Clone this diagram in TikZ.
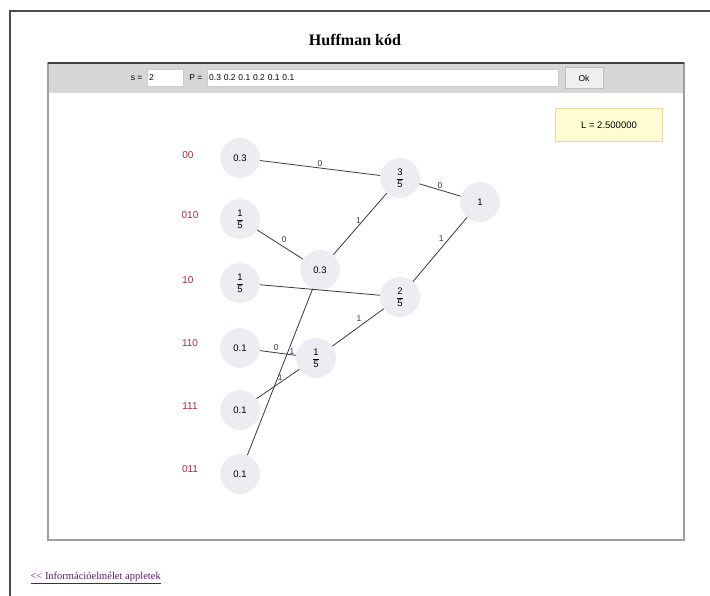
\documentclass[tikz,border=0pt]{standalone}
\usepackage{amsmath}
\usepackage{fontspec}
\setmainfont{Liberation Serif}
\newfontfamily\guifont{Liberation Sans}
\usetikzlibrary{positioning,calc}

\definecolor{nodefill}{RGB}{236,236,243}
\definecolor{codered}{RGB}{176,40,60}
\definecolor{edgegray}{RGB}{55,55,65}
\definecolor{barfill}{RGB}{214,214,214}
\definecolor{lfill}{RGB}{254,252,208}
\definecolor{lborder}{RGB}{226,220,160}
\definecolor{linkpurple}{RGB}{88,28,96}

\newcommand{\hfr}[2]{$\genfrac{}{}{0.5pt}{0}{\mbox{#1}}{\mbox{#2}}$}

\begin{document}
\begin{tikzpicture}[
    x=1pt, y=-1pt,
    font=\guifont\fontsize{8.5}{10}\selectfont,
    tnode/.style={circle, fill=nodefill, minimum size=40pt, inner sep=0pt, font=\guifont\fontsize{9.5}{11}\selectfont},
    code/.style={text=codered, font=\guifont\fontsize{10}{12}\selectfont},
    edge/.style={edgegray, line width=0.8pt},
    elabel/.style={font=\guifont\fontsize{8.5}{10}\selectfont, inner sep=1.5pt},
    field/.style={draw=gray!40, fill=white, minimum height=17pt, inner sep=1.5pt, anchor=west}
]
\useasboundingbox (0,0) rectangle (710,596);

\draw [black!70, line width=1.3pt] (710,11) -- (10,11) -- (10,596);

\node [font=\rmfamily\bfseries\fontsize{16}{18}\selectfont] (title) at (355,40) {Huffman kód};

\fill [barfill] (48,63) rectangle (684,93);
\draw [gray!75, line width=1.5pt] (48,63) rectangle (684,540);
\draw [black!75, line width=1.5pt] (48,63) -- (684,63);

\node [anchor=east] (slabel) at (146,78) {s =};
\node [field, minimum width=36pt, text width=32pt] (sfield) at (147,78) {2};
\node [anchor=east] (plabel) at (206,78) {P =};
\node [field, minimum width=351pt, text width=347pt] (pfield) at (207,78) {0.3 0.2 0.1 0.2 0.1 0.1};
\node [draw=gray!50, fill=blue!4!gray!12, minimum width=38pt, minimum height=21pt] (ok) at (584,78) {Ok};

\node [draw=lborder, fill=lfill, minimum width=107pt, minimum height=33pt, font=\guifont\fontsize{9.5}{11}\selectfont] (lbox) at (609,125) {L = 2.500000};

\node [tnode] (a) at (240,158) {0.3};
\node [tnode] (b) at (240,219) {\hfr{1}{5}};
\node [tnode] (c) at (240,283) {\hfr{1}{5}};
\node [tnode] (d) at (240,348) {0.1};
\node [tnode] (e) at (240,410) {0.1};
\node [tnode] (f) at (240,474) {0.1};
\node [tnode] (g) at (320,270) {0.3};
\node [tnode] (h) at (316,358) {\hfr{1}{5}};
\node [tnode] (i) at (400,178) {\hfr{3}{5}};
\node [tnode] (j) at (400,297) {\hfr{2}{5}};
\node [tnode] (k) at (480,202) {1};

\node [code] (ca) at (188,155) {00};
\node [code] (cb) at (190,215) {010};
\node [code] (cc) at (188,280) {10};
\node [code] (cd) at (190,343) {110};
\node [code] (ce) at (190,406) {111};
\node [code] (cf) at (190,469) {011};

\draw [edge] (a) -- node [elabel, above] {0} (i);
\draw [edge] (b) -- node [elabel, above right] {0} (g);
\draw [edge] (c) -- (j);
\draw [edge] (d) -- node [elabel, above, pos=0.45] {0} (h);
\draw [edge] (e) -- node [elabel, above, pos=0.55] {1} (h);
\draw [edge] (f) -- node [elabel, right, pos=0.62] {1} (g);
\draw [edge] (g) -- node [elabel, left, pos=0.55] {1} (i);
\draw [edge] (h) -- node [elabel, above left, pos=0.6] {1} (j);
\draw [edge] (i) -- node [elabel, above] {0} (k);
\draw [edge] (j) -- node [elabel, above left, pos=0.6] {1} (k);

\node [anchor=west, text=linkpurple, font=\rmfamily\fontsize{10.5}{12}\selectfont] (link) at (27,578) {\underline{{<}{<} Információelmélet appletek}};

\end{tikzpicture}
\end{document}
